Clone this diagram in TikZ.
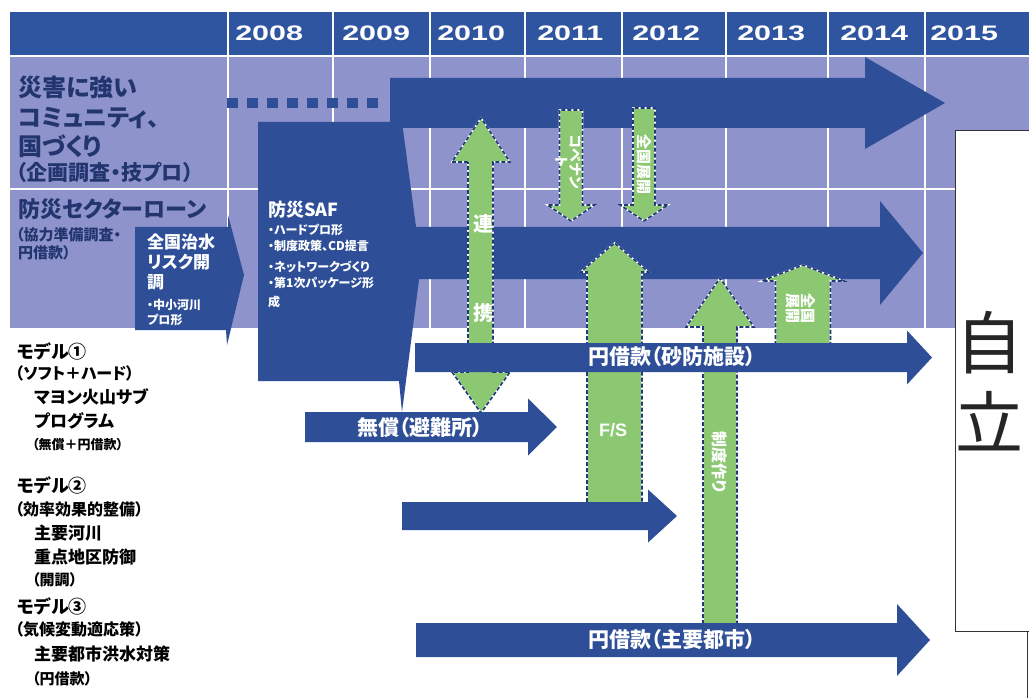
\documentclass[tikz,border=0pt]{standalone}
\usepackage{fontspec}
\setmainfont{Noto Sans CJK JP}[RawFeature=+palt]
\newfontfamily\lat{Liberation Sans}
\definecolor{hdr}{HTML}{2F54A0}
\definecolor{blu}{HTML}{2E4F98}
\definecolor{lav}{HTML}{8E93CB}
\definecolor{grn}{HTML}{8CC872}
\definecolor{dkb}{HTML}{1F3A75}
\definecolor{navy}{HTML}{22356F}
\newcommand\fsz[1]{\fontsize{#1}{#1}\selectfont}
\tikzset{
  yr/.style={anchor=west, inner sep=0pt, text=white, font=\lat\bfseries\fsz{21}, xscale=1.45},
  rowlbl/.style={anchor=west, inner sep=0pt, text=navy, font=\bfseries\fsz{#1}},
  mdl/.style={anchor=west, inner sep=0pt, text=black, font=\bfseries\fsz{#1}},
  wlbl/.style={anchor=west, inner sep=0pt, text=white, font=\bfseries\fsz{#1}},
  wc/.style={inner sep=0pt, text=white, font=\bfseries\fsz{#1}},
  wrot/.style={inner sep=0pt, text=white, font=\bfseries\fsz{#1}, rotate=-90, align=center},
  bluefill/.style={fill=blu},
  garrow/.style={fill=grn, draw=white, line width=1.6pt, line join=miter,
     postaction={draw=dkb, line width=1.6pt, dash pattern=on 4pt off 2pt}},
}
% right arrow: style, x0, xbase, xtip, yc, half body, half head
\newcommand\myrarrow[7]{%
  \path[#1] ({#2},{#5-#6}) -- ({#3},{#5-#6}) -- ({#3},{#5-#7}) -- ({#4},{#5})
     -- ({#3},{#5+#7}) -- ({#3},{#5+#6}) -- ({#2},{#5+#6}) -- cycle;}
% vertical arrow: style, xc, half shaft, half head, y end, y head base, y tip
\newcommand\myvarrow[7]{%
  \path[#1] ({#2-#3},{#5}) -- ({#2-#3},{#6}) -- ({#2-#4},{#6}) -- ({#2},{#7})
     -- ({#2+#4},{#6}) -- ({#2+#3},{#6}) -- ({#2+#3},{#5}) -- cycle;}
\begin{document}
\begin{tikzpicture}[x=1pt,y=-1pt]
\useasboundingbox (0,0) rectangle (1029,698);
\fill[white] (0,0) rectangle (1029,698);
% background grid
\fill[lav] (10,57) rectangle (1029,328);
\fill[hdr] (10,12) rectangle (1029,55);
\foreach \x in {228,333,430,525,622,726,828,925}
  \draw[white, line width=2pt] (\x,12) -- (\x,328);
\draw[white, line width=2.5pt] (10,56) -- (1029,56);
\draw[white, line width=2pt] (10,189) -- (1029,189);
% years
\foreach \x/\t in {235/2008,342/2009,437/2010,537/2011,632/2012,737/2013,840/2014,930/2015}
  \node[yr] (y\t) at (\x,33) {\t};
% row 1 dashed lead and arrow
\draw[blu, line width=10pt, dash pattern=on 11pt off 9pt] (227,103) -- (385,103);
\myrarrow{bluefill}{390}{865}{945}{103}{25}{46}
% row 2 arrow
\myrarrow{bluefill}{410}{880}{923}{253}{26}{52}
% SAF block
\fill[blu] (258,122) -- (402,122) -- (421,264) -- (402,412) -- (399,381) -- (258,381) -- cycle;
% national flood risk block
\fill[blu] (135,227) -- (228,227) -- (228,215) -- (244,275) -- (227,345) -- (226,330) -- (135,330) -- cycle;
% green arrows
\path[garrow] (468,162) -- (452,162) -- (481,118) -- (510,162) -- (493,162) -- (493,372)
   -- (510,372) -- (481,413) -- (452,372) -- (468,372) -- cycle;
\myvarrow{garrow}{571}{11.5}{23.5}{110}{205}{221}
\myvarrow{garrow}{644}{11}{24}{108}{205}{221}
\myvarrow{garrow}{614.5}{27.5}{34}{508}{272}{243}
\myvarrow{garrow}{720}{17}{34}{630}{327}{278}
\myvarrow{garrow}{803}{27.5}{41}{345}{281}{265}
% lower blue arrows
\myrarrow{bluefill}{415}{907}{932}{357.5}{14.5}{27}
\myrarrow{bluefill}{305}{528}{557}{427}{15}{28.5}
\myrarrow{bluefill}{402}{648}{677}{516}{14}{26.5}
\myrarrow{bluefill}{416}{897}{930}{640}{17}{36}
% row labels
\node[rowlbl=24] (r1a) at (18,87) {災害に強い};
\node[rowlbl=24] (r1b) at (18,118) {コミュニティ、};
\node[rowlbl=24] (r1c) at (18,146) {国づくり};
\node[rowlbl=21] (r1d) at (16,172) {（企画調査・技プロ）};
\node[rowlbl=22] (r2a) at (18,209) {防災セクターローン};
\node[rowlbl=15] (r2b) at (16,235) {（協力準備調査・};
\node[rowlbl=15] (r2c) at (18,253) {円借款）};
% model labels
\node[mdl=18] (m1a) at (17,351) {モデル①};
\node[mdl=16] (m1b) at (15,373) {（ソフト＋ハード）};
\node[mdl=17] (m1c) at (34,397) {マヨン火山サブ};
\node[mdl=17] (m1d) at (34,421) {プログラム};
\node[mdl=13] (m1e) at (32,445) {（無償＋円借款）};
\node[mdl=18] (m2a) at (17,485) {モデル②};
\node[mdl=16] (m2b) at (15,509) {（効率効果的整備）};
\node[mdl=17] (m2c) at (34,533) {主要河川};
\node[mdl=17] (m2d) at (34,557) {重点地区防御};
\node[mdl=15] (m2e) at (32,580) {（開調）};
\node[mdl=18] (m3a) at (17,606) {モデル③};
\node[mdl=16] (m3b) at (15,630) {（気候変動適応策）};
\node[mdl=17] (m3c) at (34,654) {主要都市洪水対策};
\node[mdl=15] (m3d) at (32,679) {（円借款）};
% box texts
\node[wlbl=17] (k1) at (147,242) {全国治水};
\node[wlbl=17] (k2) at (147,262) {リスク開};
\node[wlbl=17] (k3) at (147,282) {調};
\node[wlbl=12] (k4) at (147,305) {・中小河川};
\node[wlbl=12] (k5) at (147,320) {プロ形};
\node[wlbl=18] (s1) at (268,210) {防災SAF};
\node[wlbl=12] (s2) at (268,230) {・ハードプロ形};
\node[wlbl=12] (s3) at (268,246) {・制度政策、CD提言};
\node[wlbl=12] (s4) at (268,267) {・ネットワークづくり};
\node[wlbl=12] (s5) at (268,283) {・第1次パッケージ形};
\node[wlbl=12] (s6) at (268,302) {成};
% arrow texts
\node[wc=21] (a1) at (672,357) {円借款（砂防施設）};
\node[wc=21] (a2) at (420,428) {無償（避難所）};
\node[wc=21] (a3) at (672,640) {円借款（主要都市）};
\node[inner sep=0pt, text=white, font=\lat\bfseries\fsz{18}] (fs) at (613,430) {F/S};
\node[wc=20] (g1) at (483,224) {連};
\node[wc=20] (g2) at (483,313) {携};
\node[wrot=14] (g3) at (569,162) {コベナン\\ト};
\node[wrot=15] (g4) at (644,165) {全国展開};
\node[wrot=16] (g5) at (720,462) {制度作り};
\node[wrot=15] (g6) at (801,308) {全国\\展開};
% independence box
\draw[black!80, line width=0.8pt, fill=white] (1035,130) -- (955,130) -- (955,631) -- (1035,631);
\draw[black!80, line width=0.8pt] (1027,631) -- (1027,698);
\node[inner sep=0pt, text=black!85, font=\fsz{68}] (j1) at (989,343) {自};
\node[inner sep=0pt, text=black!85, font=\fsz{68}] (j2) at (989,421) {立};
\end{tikzpicture}
\end{document}
